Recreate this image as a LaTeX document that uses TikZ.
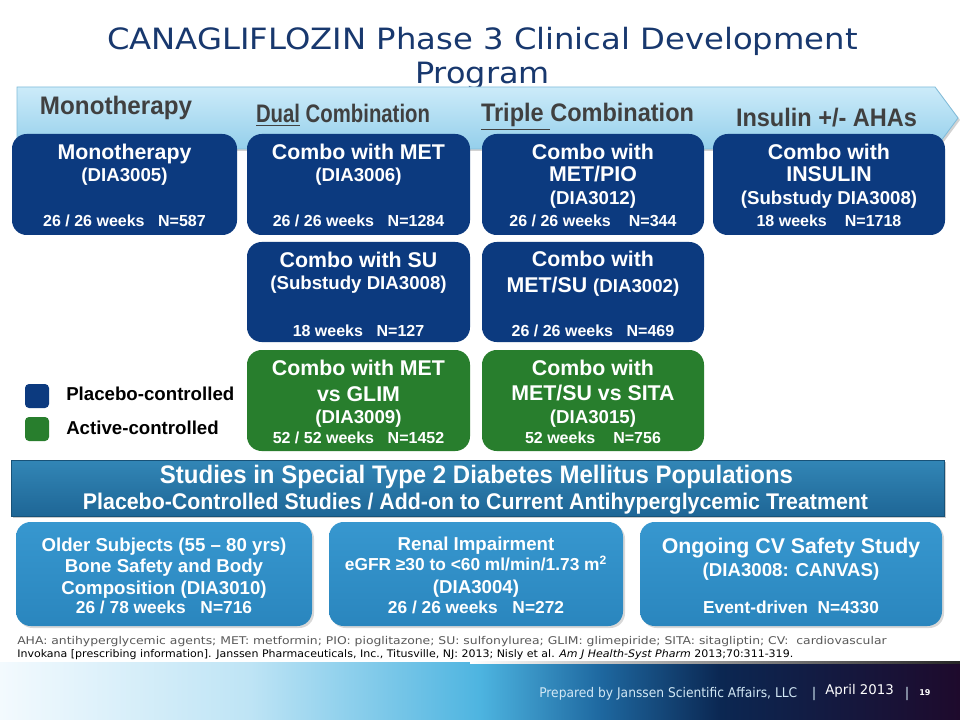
\documentclass[tikz,border=0pt]{standalone}
\usepackage{fontspec}
\usepackage{graphicx}
\setmainfont{Liberation Sans}
\newfontfamily\verdana{DejaVu Sans}
\usetikzlibrary{shadows}

\definecolor{titleblue}{RGB}{24,56,110}
\definecolor{navy}{RGB}{12,58,127}
\definecolor{actgreen}{RGB}{40,126,45}
\definecolor{arrowtop}{RGB}{204,235,249}
\definecolor{arrowbot}{RGB}{148,207,235}
\definecolor{arrowline}{RGB}{128,188,218}
\definecolor{arrowtext}{RGB}{64,64,64}
\definecolor{bannertop}{RGB}{50,134,182}
\definecolor{bannerbot}{RGB}{30,102,150}
\definecolor{specialtop}{RGB}{55,151,207}
\definecolor{specialbot}{RGB}{42,134,190}
\definecolor{notegray}{RGB}{89,89,89}
\definecolor{fA}{RGB}{243,250,254}
\definecolor{fB}{RGB}{190,228,245}
\definecolor{fC}{RGB}{77,180,224}
\definecolor{fD}{RGB}{30,104,160}
\definecolor{fE}{RGB}{11,39,82}
\definecolor{fF}{RGB}{30,10,44}
\definecolor{foottext}{RGB}{210,232,245}

\newcommand\cardnode[6]{\node[#2, minimum width={(#5-(#3))*0.75pt}, minimum height={(#6-(#4))*0.75pt}] (#1) at ({(#3+#5)/2},{(#4+#6)/2}) {};}
\newcommand\gapw{\hspace{0.85em}}

\begin{document}
\begin{tikzpicture}[x=0.75pt,y=-0.75pt,
  card/.style={rounded corners=11pt, inner sep=0pt, outer sep=0pt, draw=none},
  navybox/.style={card, fill=navy},
  greenbox/.style={card, fill=actgreen},
  specialbox/.style={card, top color=specialtop, bottom color=specialbot,
     drop shadow={opacity=0.3, shadow xshift=1.5pt, shadow yshift=-1.5pt}},
  legendsq/.style={rounded corners=3pt, inner sep=0pt, outer sep=0pt, minimum size=18pt},
  wt/.style={text=white, anchor=base, inner sep=0pt},
  tA/.style={wt, font=\bfseries\fontsize{16}{19}\selectfont},
  tB/.style={wt, font=\bfseries\fontsize{14}{17}\selectfont},
  tC/.style={wt, font=\bfseries\fontsize{12}{14}\selectfont},
  tD/.style={wt, font=\bfseries\fontsize{13}{15}\selectfont},
  legendtext/.style={anchor=base west, inner sep=0pt, text=black, font=\bfseries\fontsize{14}{17}\selectfont},
  phase/.style={anchor=base, inner sep=0pt, text=arrowtext, font=\bfseries\fontsize{19}{22}\selectfont},
  titletext/.style={anchor=base, inner sep=0pt, text=titleblue, font=\verdana\fontsize{22}{26}\selectfont},
  bannertext/.style={anchor=base, inner sep=0pt, text=white, font=\bfseries\fontsize{19}{22}\selectfont},
  note/.style={anchor=base west, inner sep=0pt, font=\verdana\fontsize{8}{10}\selectfont},
  foot/.style={anchor=base west, inner sep=0pt, text=foottext, font=\verdana\fontsize{10}{12}\selectfont},
]
\useasboundingbox (0,0) rectangle (960,720);
\fill[white] (0,0) rectangle (960,720);

% title
\node[titletext] (title1) at (482.5,50) {\resizebox{563pt}{\height}{CANAGLIFLOZIN Phase 3 Clinical Development}};
\node[titletext] (title2) at (482.5,84) {\resizebox{101pt}{\height}{Program}};

% phase arrow
\path[top color=arrowtop, bottom color=arrowbot, draw=arrowline, line width=0.6pt,
  drop shadow={opacity=0.35, shadow xshift=1.5pt, shadow yshift=-1.5pt}]
  (17,87) -- (935,87) -- (958,118) -- (935,149) -- (17,149) -- cycle;
\node[phase] (ph1) at (116,115) {\resizebox{114pt}{\height}{Monotherapy}};
\node[phase] (ph2) at (343,123) {\resizebox{130.5pt}{\height}{\underline{Dual} Combination}};
\node[phase] (ph3) at (587.5,122) {\resizebox{159.75pt}{\height}{\underline{Triple\ }Combination}};
\node[phase] (ph4) at (826.5,127) {\resizebox{135.75pt}{\height}{Insulin +/- AHAs}};

% row 1
\cardnode{mono}{navybox}{12}{134}{237}{235}
\cardnode{met}{navybox}{247}{134}{470}{235}
\cardnode{metpio}{navybox}{482}{134}{704}{235}
\cardnode{ins}{navybox}{713}{134}{945}{235}
% row 2
\cardnode{su}{navybox}{247}{242}{470}{342}
\cardnode{metsu}{navybox}{482}{242}{704}{342}
% row 3
\cardnode{glim}{greenbox}{247}{350}{470}{451}
\cardnode{sita}{greenbox}{482}{350}{704}{451}

\node[tA] (mono1) at (124.5,160) {Monotherapy};
\node[tB] (mono2) at (124.5,182) {(DIA3005)};
\node[tC] (mono3) at (124.5,226.5) {26 / 26 weeks\gapw N=587};

\node[tA] (met1) at (358.5,160) {Combo with MET};
\node[tB] (met2) at (358.5,182) {(DIA3006)};
\node[tC] (met3) at (358.5,226.5) {26 / 26 weeks\gapw N=1284};

\node[tA] (mp1) at (593,160) {Combo with};
\node[tA] (mp2) at (593,182) {MET/PIO};
\node[tB] (mp3) at (593,205) {(DIA3012)};
\node[tC] (mp4) at (593,226.5) {26 / 26 weeks\gapw\ N=344};

\node[tA] (in1) at (829,160) {Combo with};
\node[tA] (in2) at (829,182) {INSULIN};
\node[tB] (in3) at (829,205) {(Substudy DIA3008)};
\node[tC] (in4) at (829,226.5) {18 weeks\gapw\ N=1718};

\node[tA] (su1) at (358.5,268) {Combo with SU};
\node[tB] (su2) at (358.5,290) {(Substudy DIA3008)};
\node[tC] (su3) at (358.5,336.5) {18 weeks\gapw N=127};

\node[tA] (ms1) at (593,266.5) {Combo with};
\node[tA] (ms2) at (593,292) {MET/SU {\fontsize{14}{17}\selectfont(DIA3002)}};
\node[tC] (ms3) at (593,336.5) {26 / 26 weeks\gapw N=469};

\node[tA] (gl1) at (358.5,375) {Combo with MET};
\node[tA] (gl2) at (358.5,401) {vs GLIM};
\node[tB] (gl3) at (358.5,423.5) {(DIA3009)};
\node[tC] (gl4) at (358.5,443.5) {52 / 52 weeks\gapw N=1452};

\node[tA] (si1) at (593,375) {Combo with};
\node[tA] (si2) at (593,400.5) {MET/SU vs SITA};
\node[tB] (si3) at (593,423.5) {(DIA3015)};
\node[tC] (si4) at (593,443.5) {52 weeks\gapw\ N=756};

% legend
\node[legendsq, fill=navy] (lgplacebo) at (37,396) {};
\node[legendsq, fill=actgreen] (lgactive) at (37,429) {};
\node[legendtext] (lgt1) at (66,400) {Placebo-controlled};
\node[legendtext] (lgt2) at (66,434) {Active-controlled};

% banner
\node[top color=bannertop, bottom color=bannerbot, draw=bannerbot!80!black, line width=0.4pt,
  minimum width={933*0.75pt}, minimum height={56*0.75pt}, inner sep=0pt,
  drop shadow={opacity=0.4, shadow xshift=1.5pt, shadow yshift=-1.5pt}] (banner) at (477.5,488) {};
\node[bannertext] (ban1) at (476.5,483) {\resizebox{474.75pt}{\height}{Studies in Special Type 2 Diabetes Mellitus Populations}};
\node[bannertext, font=\bfseries\fontsize{17}{20}\selectfont] (ban2) at (475.5,509) {\resizebox{588.75pt}{\height}{Placebo-Controlled Studies / Add-on to Current Antihyperglycemic Treatment}};

% special population boxes
\cardnode{older}{specialbox}{16}{522}{312}{626}
\cardnode{renal}{specialbox}{329}{522}{623}{626}
\cardnode{cv}{specialbox}{640}{522}{942}{626}

\node[tB] (ol1) at (164,551) {Older Subjects (55 – 80 yrs)};
\node[tB] (ol2) at (164,572.5) {Bone Safety and Body};
\node[tB] (ol3) at (164,594) {Composition (DIA3010)};
\node[tD] (ol4) at (164,613) {26 / 78 weeks\gapw N=716};

\node[tB] (re1) at (476,550) {Renal Impairment};
\node[tD] (re2) at (476,570) {eGFR ≥30 to <60 ml/min/1.73 m\textsuperscript{2}};
\node[tB] (re3) at (476,593.5) {(DIA3004)};
\node[tD] (re4) at (476,613) {26 / 26 weeks\gapw N=272};

\node[tA] (cv1) at (791,553) {Ongoing CV Safety Study};
\node[tB] (cv2) at (791,576) {(DIA3008: CANVAS)};
\node[tD] (cv3) at (791,613) {Event-driven\ \ N=4330};

% footnotes
\node[note, text=notegray] (note1) at (17,644) {\resizebox{652pt}{\height}{AHA: antihyperglycemic agents; MET: metformin; PIO: pioglitazone; SU: sulfonylurea; GLIM: glimepiride; SITA: sitagliptin; CV:\ \ cardiovascular}};
\node[note, text=black, font=\verdana\fontsize{7.8}{9}\selectfont] (note2) at (17,657) {\resizebox{582pt}{\height}{Invokana [prescribing information]. Janssen Pharmaceuticals, Inc., Titusville, NJ: 2013; Nisly et al. \textit{Am J Health-Syst Pharm} 2013;70:311-319.}};

% footer band
\fill[left color=fA, right color=fB] (0,662) rectangle (250.5,720);
\fill[left color=fB, right color=fC] (250,662) rectangle (480.5,720);
\fill[left color=fC, right color=fD] (480,662) rectangle (600.5,720);
\fill[left color=fD, right color=fE] (600,662) rectangle (720.5,720);
\fill[left color=fE, right color=fF] (720,662) rectangle (960,720);
\fill[left color=white, right color=black!85] (470,661.5) rectangle (960,663);

\node[foot] (prep) at (539,697) {\resizebox{193.5pt}{\height}{Prepared by Janssen Scientific Affairs, LLC}};
\node[foot, anchor=base] (bar1) at (814,697) {|};
\node[foot, text=white] (date) at (825,694) {April 2013};
\node[foot, anchor=base] (bar2) at (907,697) {|};
\node[foot, text=white, font=\verdana\bfseries\fontsize{6}{7}\selectfont] (page) at (919,695) {19};
\end{tikzpicture}
\end{document}
